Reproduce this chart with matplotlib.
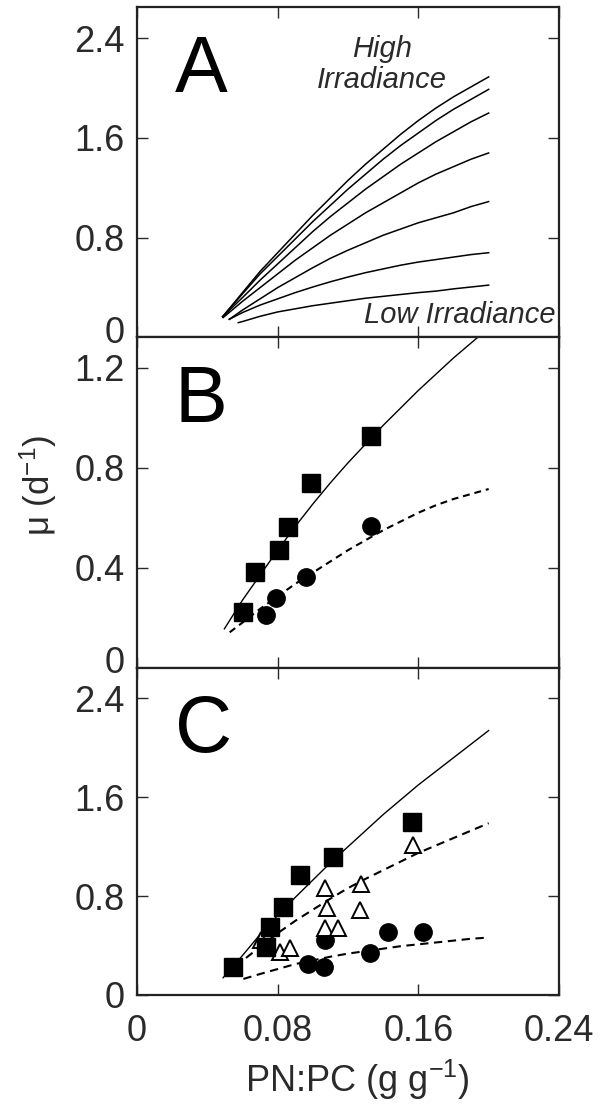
import matplotlib

matplotlib.use("Agg")
import matplotlib.pyplot as plt  # noqa: E402
from matplotlib.transforms import ScaledTranslation  # noqa: E402

plt.rcParams.update(
    {
        "font.family": ["Liberation Sans", "DejaVu Sans"],
        "mathtext.fontset": "custom",
        "mathtext.rm": "Liberation Sans",
        "mathtext.it": "Liberation Sans:italic",
        "lines.scale_dashes": False,
    }
)

INK = "#2a2a2a"

# --- Panel A: curvas del modelo, de alta a baja irradiancia ---
A_START_X = [0.0487, 0.0487, 0.0487, 0.0490, 0.0525, 0.0525, 0.0576]
A_START_Y = [0.167, 0.167, 0.167, 0.160, 0.146, 0.146, 0.119]
A_X = [0.06, 0.07, 0.08, 0.09, 0.10, 0.11, 0.12, 0.13, 0.14, 0.15, 0.16,
       0.17, 0.18, 0.19, 0.20]
A_MU_1 = [0.36, 0.53, 0.68, 0.83, 0.98, 1.12, 1.26, 1.39, 1.51, 1.63, 1.74,
          1.84, 1.93, 2.01, 2.09]
A_MU_2 = [0.35, 0.51, 0.65, 0.79, 0.93, 1.06, 1.19, 1.31, 1.43, 1.54, 1.64,
          1.74, 1.83, 1.91, 1.99]
A_MU_3 = [0.32, 0.46, 0.59, 0.72, 0.85, 0.97, 1.08, 1.19, 1.29, 1.39, 1.48,
          1.57, 1.65, 1.73, 1.80]
A_MU_4 = [0.29, 0.40, 0.51, 0.62, 0.72, 0.82, 0.91, 1.00, 1.08, 1.16, 1.24,
          1.31, 1.37, 1.43, 1.48]
A_MU_5 = [0.22, 0.31, 0.40, 0.48, 0.56, 0.635, 0.70, 0.76, 0.82, 0.87, 0.92,
          0.96, 1.00, 1.05, 1.09]
A_MU_6 = [0.20, 0.26, 0.31, 0.36, 0.405, 0.447, 0.485, 0.52, 0.55, 0.58, 0.605,
          0.625, 0.645, 0.665, 0.68]
A_MU_7 = [0.128, 0.17, 0.205, 0.23, 0.255, 0.275, 0.295, 0.315, 0.33, 0.345,
          0.36, 0.372, 0.39, 0.405, 0.42]

# --- Panel B ---
B_SQ_X = [0.060, 0.0672, 0.0806, 0.0858, 0.099, 0.1329]
B_SQ_Y = [0.222, 0.384, 0.469, 0.563, 0.738, 0.928]
B_CI_X = [0.0732, 0.0789, 0.0962, 0.1329]
B_CI_Y = [0.211, 0.280, 0.364, 0.566]
B_FIT_SQ_X = [0.0497, 0.06, 0.07, 0.08, 0.09, 0.10, 0.11, 0.12, 0.13, 0.14,
              0.15, 0.16, 0.17, 0.18, 0.19, 0.20]
B_FIT_SQ_Y = [0.155, 0.27, 0.37, 0.47, 0.565, 0.655, 0.74, 0.82, 0.895, 0.97,
              1.04, 1.11, 1.175, 1.24, 1.30, 1.36]
B_FIT_CI_X = [0.0527, 0.06, 0.07, 0.08, 0.09, 0.10, 0.11, 0.12, 0.13, 0.14,
              0.15, 0.16, 0.17, 0.18, 0.19, 0.20]
B_FIT_CI_Y = [0.141, 0.18, 0.235, 0.285, 0.335, 0.38, 0.425, 0.47, 0.51, 0.55,
              0.585, 0.62, 0.65, 0.675, 0.695, 0.715]

# --- Panel C ---
C_SQ_X = [0.0548, 0.0734, 0.0756, 0.0829, 0.0927, 0.1117, 0.1562]
C_SQ_Y = [0.229, 0.390, 0.552, 0.713, 0.969, 1.117, 1.400]
C_TR_X = [0.0705, 0.0813, 0.087, 0.1069, 0.1145, 0.1079, 0.1268, 0.1069,
          0.1274, 0.157]
C_TR_Y = [0.444, 0.350, 0.377, 0.539, 0.539, 0.700, 0.686, 0.862, 0.900, 1.210]
C_CI_X = [0.0974, 0.1066, 0.1069, 0.1325, 0.1429, 0.1625]
C_CI_Y = [0.250, 0.227, 0.444, 0.342, 0.511, 0.511]
C_FIT_SQ_X = [0.049, 0.06, 0.07, 0.08, 0.09, 0.10, 0.11, 0.12, 0.13, 0.14,
              0.15, 0.16, 0.17, 0.18, 0.19, 0.20]
C_FIT_SQ_Y = [0.14, 0.32, 0.49, 0.645, 0.79, 0.93, 1.07, 1.20, 1.33, 1.46,
              1.58, 1.70, 1.81, 1.92, 2.03, 2.14]
C_FIT_TR_X = [0.062, 0.07, 0.08, 0.09, 0.10, 0.11, 0.12, 0.13, 0.14, 0.15,
              0.16, 0.17, 0.18, 0.19, 0.20]
C_FIT_TR_Y = [0.30, 0.39, 0.50, 0.60, 0.69, 0.78, 0.865, 0.94, 1.01, 1.08,
              1.15, 1.21, 1.27, 1.33, 1.39]
C_FIT_CI_X = [0.0605, 0.07, 0.08, 0.09, 0.10, 0.11, 0.12, 0.13, 0.14, 0.15,
              0.16, 0.17, 0.18, 0.19, 0.20]
C_FIT_CI_Y = [0.13, 0.17, 0.21, 0.25, 0.28, 0.31, 0.335, 0.355, 0.375, 0.395,
              0.41, 0.425, 0.44, 0.455, 0.465]

X_TICKS = [0, 0.08, 0.16, 0.24]
X_LABELS = ["0", "0.08", "0.16", "0.24"]
Y_TICKS_AC = [0, 0.8, 1.6, 2.4]
Y_LABELS_AC = ["0", "0.8", "1.6", "2.4"]
Y_TICKS_B = [0, 0.4, 0.8, 1.2]
Y_LABELS_B = ["0", "0.4", "0.8", "1.2"]

W, H = 602, 1109
fig = plt.figure(figsize=(W / 100, H / 100), dpi=100)


def panel(top_px, bottom_px):
    left, right = 137, 559
    return fig.add_axes(
        [left / W, 1 - bottom_px / H, (right - left) / W, (bottom_px - top_px) / H]
    )


def estilo(ax, ylim, yticks, ylabels, letra, show_x, subir_cero=False):
    ax.set_xlim(0, 0.24)
    ax.set_ylim(*ylim)
    ax.set_xticks(X_TICKS)
    ax.set_xticklabels(X_LABELS if show_x else [])
    ax.set_yticks(yticks)
    ax.set_yticklabels(ylabels)
    ax.tick_params(
        direction="in", length=8, width=1.0, top=True, right=True,
        labelsize=26, colors=INK,
    )
    ax.tick_params(axis="y", pad=9)
    ax.tick_params(axis="x", pad=14)
    if subir_cero:
        # el "0" inferior sube un poco para no pisar la etiqueta del panel de abajo
        cero = ax.yaxis.get_major_ticks()[0].label1
        cero.set_transform(
            cero.get_transform() + ScaledTranslation(0, 6 / 72, fig.dpi_scale_trans)
        )
    for s in ax.spines.values():
        s.set_linewidth(1.6)
        s.set_color("#222222")
    ax.text(0.09, 0.743, letra, transform=ax.transAxes, fontsize=57,
            ha="left", va="baseline", color="black")


axA = panel(7.3, 337.5)
axB = panel(337.5, 667.5)
axC = panel(667.5, 995)

# Panel A
curvas = [A_MU_1, A_MU_2, A_MU_3, A_MU_4, A_MU_5, A_MU_6, A_MU_7]
for x0, y0, mu in zip(A_START_X, A_START_Y, curvas):
    axA.plot([x0] + A_X, [y0] + mu, color="black", lw=1.1)
axA.text(0.1394, 2.249, "High", style="italic", fontsize=21, ha="center",
         va="baseline", color=INK)
axA.text(0.1394, 2.0, "Irradiance", style="italic", fontsize=21, ha="center",
         va="baseline", color=INK)
axA.text(0.2378, 0.119, "Low Irradiance", style="italic", fontsize=21,
         ha="right", va="baseline", color=INK)
estilo(axA, (0, 2.648), Y_TICKS_AC, Y_LABELS_AC, "A", False, subir_cero=True)

# Panel B
axB.plot(B_FIT_SQ_X, B_FIT_SQ_Y, color="black", lw=1.0, zorder=2)
axB.plot(B_FIT_CI_X, B_FIT_CI_Y, color="black", lw=1.5, dashes=(5, 3.5), zorder=2)
axB.plot(B_CI_X, B_CI_Y, "o", ms=12.5, color="black", mec="black", zorder=3)
axB.plot(B_SQ_X, B_SQ_Y, "s", ms=13, color="black", mec="black", zorder=4)
estilo(axB, (0, 1.322), Y_TICKS_B, Y_LABELS_B, "B", False, subir_cero=True)

# Panel C
axC.plot(C_FIT_SQ_X, C_FIT_SQ_Y, color="black", lw=1.0, zorder=2)
axC.plot(C_FIT_TR_X, C_FIT_TR_Y, color="black", lw=1.5, dashes=(6, 4), zorder=2)
axC.plot(C_FIT_CI_X, C_FIT_CI_Y, color="black", lw=1.5, dashes=(6, 4), zorder=2)
axC.plot(C_CI_X, C_CI_Y, "o", ms=12.5, color="black", mec="black", zorder=3)
axC.plot(C_TR_X, C_TR_Y, "^", ms=12, mfc="white", mec="black", mew=1.4, zorder=4)
axC.plot(C_SQ_X, C_SQ_Y, "s", ms=13, color="black", mec="black", zorder=5)
estilo(axC, (0, 2.65), Y_TICKS_AC, Y_LABELS_AC, "C", True)

fig.text(38 / W, 1 - 485 / H, r"μ (d$^{\mathregular{-1}}$)", rotation=90,
         ha="center", va="center", fontsize=25, color=INK)
fig.text(357 / W, 1 - 1080 / H, r"PN:PC (g g$^{\mathregular{-1}}$)",
         ha="center", va="center", fontsize=26, color=INK)

fig.savefig("out.png", dpi=100)
